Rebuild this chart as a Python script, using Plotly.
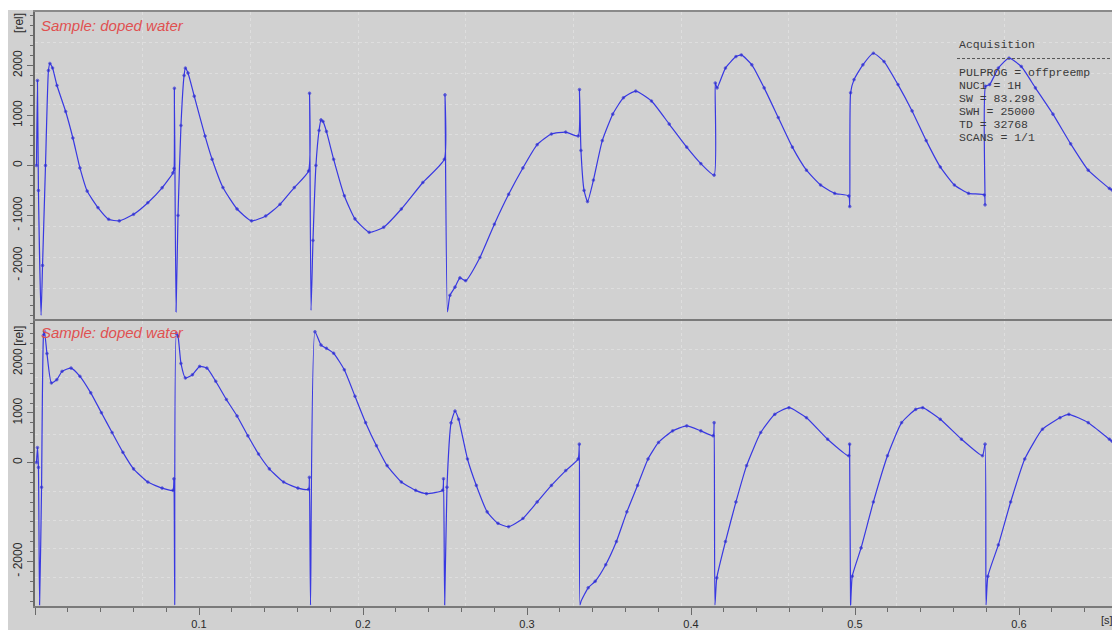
import plotly.graph_objects as go

# ---------------- data (time in s, signal in rel. units) ----------------
T_TOP = [0.0009, 0.0015, 0.0021, 0.0037, 0.0046, 0.0064, 0.0082, 0.0091, 0.0107, 0.0134,
         0.0187, 0.0231, 0.0274, 0.0318, 0.0384, 0.0449, 0.0514, 0.0601, 0.0688, 0.0775, 0.0841,
         0.0848, 0.0850, 0.0860, 0.0872, 0.0890, 0.0909, 0.0917, 0.0933,
         0.0971, 0.1037, 0.1080, 0.1146, 0.1232, 0.1320, 0.1407, 0.1494, 0.1581, 0.1668,
         0.1674, 0.1683, 0.1695, 0.1713, 0.1732, 0.1744, 0.1756,
         0.1777, 0.1821, 0.1886, 0.1951, 0.2038, 0.2126, 0.2234, 0.2365, 0.2496,
         0.2500, 0.2515, 0.2530, 0.2561, 0.2591, 0.2626, 0.2713, 0.2801, 0.2888, 0.2975,
         0.3062, 0.3149, 0.3236, 0.3312,
         0.3320, 0.3329, 0.3348, 0.3369, 0.3405, 0.3459, 0.3523, 0.3588, 0.3663, 0.3759,
         0.3867, 0.3974, 0.4060, 0.4141,
         0.4148, 0.4159, 0.4210, 0.4274, 0.4307, 0.4371, 0.4446, 0.4532, 0.4618, 0.4704,
         0.4790, 0.4876, 0.4962,
         0.4968, 0.4973, 0.4994, 0.5048, 0.5112, 0.5177, 0.5262, 0.5348, 0.5434, 0.5520,
         0.5606, 0.5692, 0.5788,
         0.5793, 0.5796, 0.5821, 0.5874, 0.5939, 0.6014, 0.6100, 0.6207, 0.6315, 0.6422,
         0.6551, 0.6567]
Y_TOP = [0, 1700, -500, -3000, -2000, 0, 1900, 2040, 1950, 1600,
         1079, 549, -50, -513, -843, -1077, -1109, -978, -745, -447, -149,
         -60, 1545, -2930, -1000, 800, 1800, 1948, 1850,
         1386, 588, 123, -442, -871, -1109, -1010, -778, -442, -111,
         1445, -2900, -1500, 0, 700, 911, 880,
         681, 123, -606, -1069, -1337, -1236, -871, -341, 123,
         1412, -2930, -2600, -2435, -2250, -2305, -1841, -1176, -578, -50,
         416, 628, 667, 590,
         1518, 300, -500, -723, -293, 497, 1026, 1354, 1487, 1289,
         828, 366, 36, -194,
         1650, 1552, 1948, 2178, 2211, 2013, 1552, 958, 366, -95,
         -392, -558, -610,
         -822, 1453, 1717, 2013, 2245, 2079, 1618, 1091, 497, -30,
         -392, -558, -590,
         -788, 1585, 1618, 1948, 2146, 1980, 1552, 1026, 432, -95,
         -459, -490]

T_BOT = [0.0009, 0.0015, 0.0021, 0.0028, 0.0040, 0.0052, 0.0058, 0.0073, 0.0100, 0.0133,
         0.0165, 0.0220, 0.0274, 0.0340, 0.0405, 0.0470, 0.0536, 0.0601, 0.0688, 0.0775, 0.0841,
         0.0847, 0.0852, 0.0862, 0.0872, 0.0890,
         0.0917, 0.0960, 0.1004, 0.1048, 0.1102, 0.1167, 0.1232, 0.1298, 0.1363, 0.1429,
         0.1516, 0.1603, 0.1668,
         0.1673, 0.1680, 0.1707, 0.1744, 0.1777, 0.1821, 0.1886, 0.1951, 0.2016, 0.2082,
         0.2147, 0.2234, 0.2321, 0.2387, 0.2485,
         0.2491, 0.2498, 0.2512, 0.2537, 0.2561, 0.2583, 0.2637, 0.2691, 0.2757, 0.2823,
         0.2888, 0.2975, 0.3062, 0.3149, 0.3236, 0.3312,
         0.3319, 0.3323, 0.3330, 0.3373, 0.3416, 0.3480, 0.3545, 0.3609, 0.3674, 0.3738,
         0.3802, 0.3888, 0.3974, 0.4060, 0.4135,
         0.4141, 0.4146, 0.4157, 0.4210, 0.4274, 0.4339, 0.4425, 0.4511, 0.4597, 0.4704,
         0.4833, 0.4962,
         0.4967, 0.4973, 0.4983, 0.5037, 0.5112, 0.5198, 0.5284, 0.5370, 0.5413, 0.5520,
         0.5649, 0.5777,
         0.5793, 0.5799, 0.5810, 0.5874, 0.5949, 0.6035, 0.6143, 0.6250, 0.6304, 0.6422,
         0.6551, 0.6567]
Y_BOT = [0, 300, -100, -2880, -500, 2574, 2640, 2200, 1606, 1672,
         1840, 1906, 1740, 1406, 1004, 604, 204, -130, -396, -518, -564,
         -330, -2880, 2606, 2550, 2000,
         1706, 1772, 1940, 1906, 1640, 1272, 938, 538, 170, -130,
         -396, -518, -544,
         -300, -2880, 2640, 2372, 2306, 2206, 1872, 1338, 804, 338,
         -64, -396, -564, -630, -564,
         -330, -2880, -500, 800, 1038, 872, 70, -464, -998, -1230,
         -1298, -1132, -798, -464, -164, 70,
         370, -2880, -2800, -2532, -2400, -2066, -1598, -998, -464, 70,
         404, 638, 738, 638, 538,
         804, -2880, -2332, -1598, -798, -64, 604, 972, 1106, 904,
         470, 136,
         370, -2880, -2300, -1726, -798, 136, 804, 1072, 1106, 872,
         470, 136,
         370, -2880, -2300, -1666, -798, 70, 672, 904, 972, 804,
         470, 430]

X_RANGE = [0, 0.6567]
TOP_RANGE = [-3070, 3070]
BOT_RANGE = [-2900, 2860]

TOP_TICKS = [-2000, -1000, 0, 1000, 2000]
TOP_TICKTEXT = ["- 2000", "- 1000", "0", "1000", "2000"]
BOT_TICKS = [-2000, 0, 1000, 2000]
BOT_TICKTEXT = ["- 2000", "0", "1000", "2000"]
X_TICKS = [0, 0.1, 0.2, 0.3, 0.4, 0.5, 0.6]
X_TICKTEXT = ["", "0.1", "0.2", "0.3", "0.4", "0.5", "0.6"]

SAMPLE_LABEL = "Sample: doped water"
ACQ_LINES = ["PULPROG = offpreemp", "NUC1 = 1H", "SW = 83.298",
             "SWH = 25000", "TD = 32768", "SCANS = 1/1"]

# ---------------- styling ----------------
BLUE = "#3838e2"
BG = "#d1d1d1"
AXC = "#6a6a6a"
TXT = "#2a2a2a"
W, H = 1112, 630
ML, MT, MB = 35, 12, 18
PW, PH = W - ML, H - MT - MB
TOP_DOM = [(612 - 322) / PH, 1.0]
BOT_DOM = [0.0, (612 - 324) / PH]


def marker_sizes(ys):
    # no dots on the tips of the pulse spikes
    return [0 if abs(v) > 2700 else 2.6 for v in ys]


fig = go.Figure()
fig.add_trace(go.Scatter(x=T_TOP, y=Y_TOP, xaxis="x", yaxis="y", mode="lines+markers",
                         line=dict(color=BLUE, width=1.2, shape="spline", smoothing=0.5),
                         marker=dict(size=marker_sizes(Y_TOP), color="#2828b8"),
                         showlegend=False, hoverinfo="skip"))
fig.add_trace(go.Scatter(x=T_BOT, y=Y_BOT, xaxis="x2", yaxis="y2", mode="lines+markers",
                         line=dict(color=BLUE, width=1.2, shape="spline", smoothing=0.5),
                         marker=dict(size=marker_sizes(Y_BOT), color="#2828b8"),
                         showlegend=False, hoverinfo="skip"))
# invisible traces to create grid-only overlay subplots
for xa, ya in [("x3", "y2"), ("x", "y3"), ("x2", "y4")]:
    fig.add_trace(go.Scatter(x=[None], y=[None], xaxis=xa, yaxis=ya, showlegend=False,
                             hoverinfo="skip", mode="lines"))

GRIDC = "#dedede"
grid = dict(showgrid=True, gridcolor=GRIDC, griddash="dot", gridwidth=1,
            showticklabels=False, ticks="", zeroline=False, showline=False)

tickfont = dict(family="Liberation Sans, Arial, sans-serif", size=12, color=TXT)

fig.update_layout(
    width=W, height=H, margin=dict(l=ML, r=0, t=MT, b=MB),
    paper_bgcolor="white", plot_bgcolor=BG,
    xaxis=dict(domain=[0, 1], anchor="y", range=X_RANGE, showticklabels=False, ticks="",
               showline=True, mirror=True, linecolor="#8a8a8a", linewidth=2,
               zeroline=False, showgrid=True, gridcolor=GRIDC, griddash="dot",
               tick0=0, dtick=X_RANGE[1] / 10),
    yaxis=dict(domain=TOP_DOM, anchor="x", range=TOP_RANGE, tickvals=TOP_TICKS,
               ticktext=TOP_TICKTEXT, tickangle=-90, ticks="outside", ticklen=6,
               tickcolor=AXC, tickfont=tickfont, showline=True, linecolor=AXC, linewidth=1.5,
               zeroline=False, showgrid=False,
               minor=dict(dtick=200, tick0=0, ticks="outside", ticklen=3, tickcolor=AXC,
                          showgrid=False)),
    yaxis3=dict(overlaying="y", anchor="x", range=TOP_RANGE, tick0=0,
                dtick=(TOP_RANGE[1] - TOP_RANGE[0]) / 10, **grid),
    xaxis2=dict(domain=[0, 1], anchor="y2", range=X_RANGE, tickvals=X_TICKS,
                ticktext=X_TICKTEXT, ticks="outside", ticklen=7, tickcolor=AXC,
                tickfont=dict(family="Liberation Sans, Arial, sans-serif", size=11, color=TXT),
                showline=True, mirror=True, linecolor="#7a7a7a", linewidth=1.5,
                zeroline=False, showgrid=False,
                minor=dict(dtick=0.02, tick0=0, ticks="outside", ticklen=4, tickcolor=AXC,
                           showgrid=False)),
    xaxis3=dict(overlaying="x2", anchor="y2", range=X_RANGE, tick0=0,
                dtick=X_RANGE[1] / 10, **grid),
    yaxis2=dict(domain=BOT_DOM, anchor="x2", range=BOT_RANGE, tickvals=BOT_TICKS,
                ticktext=BOT_TICKTEXT, tickangle=-90, ticks="outside", ticklen=6,
                tickcolor=AXC, tickfont=tickfont, showline=True, linecolor=AXC, linewidth=1.5,
                zeroline=False, showgrid=False,
                minor=dict(dtick=200, tick0=0, ticks="outside", ticklen=3, tickcolor=AXC,
                           showgrid=False)),
    yaxis4=dict(overlaying="y2", anchor="x2", range=BOT_RANGE, tick0=BOT_RANGE[0],
                dtick=(BOT_RANGE[1] - BOT_RANGE[0]) / 10, **grid),
)

# grey page area (white strips at top and left like the screenshot)
fig.add_shape(type="rect", xref="paper", yref="paper", layer="below",
              x0=(8 - ML) / PW, x1=1.02, y0=-0.05, y1=(612 - 10) / PH,
              fillcolor=BG, line=dict(width=0))


def py(p):
    return (612 - p) / PH


def px(p):
    return (p - ML) / PW


# sample labels
for ycen in (26, 336):
    fig.add_annotation(text=SAMPLE_LABEL, xref="paper", yref="paper", x=px(39), y=py(ycen),
                       xanchor="left", yanchor="middle", showarrow=False,
                       font=dict(family="Liberation Sans, Arial, sans-serif", size=15,
                                 color="#e05050", style="italic"))
# unit labels on y axes
for ycen in (23, 339):
    fig.add_annotation(text="[rel]", xref="paper", yref="paper", x=px(19), y=py(ycen),
                       xanchor="center", yanchor="middle", showarrow=False, textangle=-90,
                       font=tickfont)
# x unit
fig.add_annotation(text="[s]", xref="paper", yref="paper", x=px(1099), y=py(626),
                   xanchor="left", yanchor="middle", showarrow=False,
                   font=dict(family="Liberation Sans, Arial, sans-serif", size=11, color=TXT))

# acquisition block
mono = dict(family="Liberation Mono, DejaVu Sans Mono, monospace", size=11.5, color="#3a3a3a")
fig.add_annotation(text="Acquisition", xref="paper", yref="paper", x=px(957), y=py(45),
                   xanchor="left", yanchor="middle", showarrow=False, font=mono)
fig.add_shape(type="line", xref="paper", yref="paper", x0=px(957), x1=1.0,
              y0=py(59), y1=py(59), line=dict(color="#555", width=1, dash="3px,2px"))
for i, s in enumerate(ACQ_LINES):
    fig.add_annotation(text=s, xref="paper", yref="paper", x=px(957), y=py(73 + 13.1 * i),
                       xanchor="left", yanchor="middle", showarrow=False, font=mono)

fig.write_html("out.html")
